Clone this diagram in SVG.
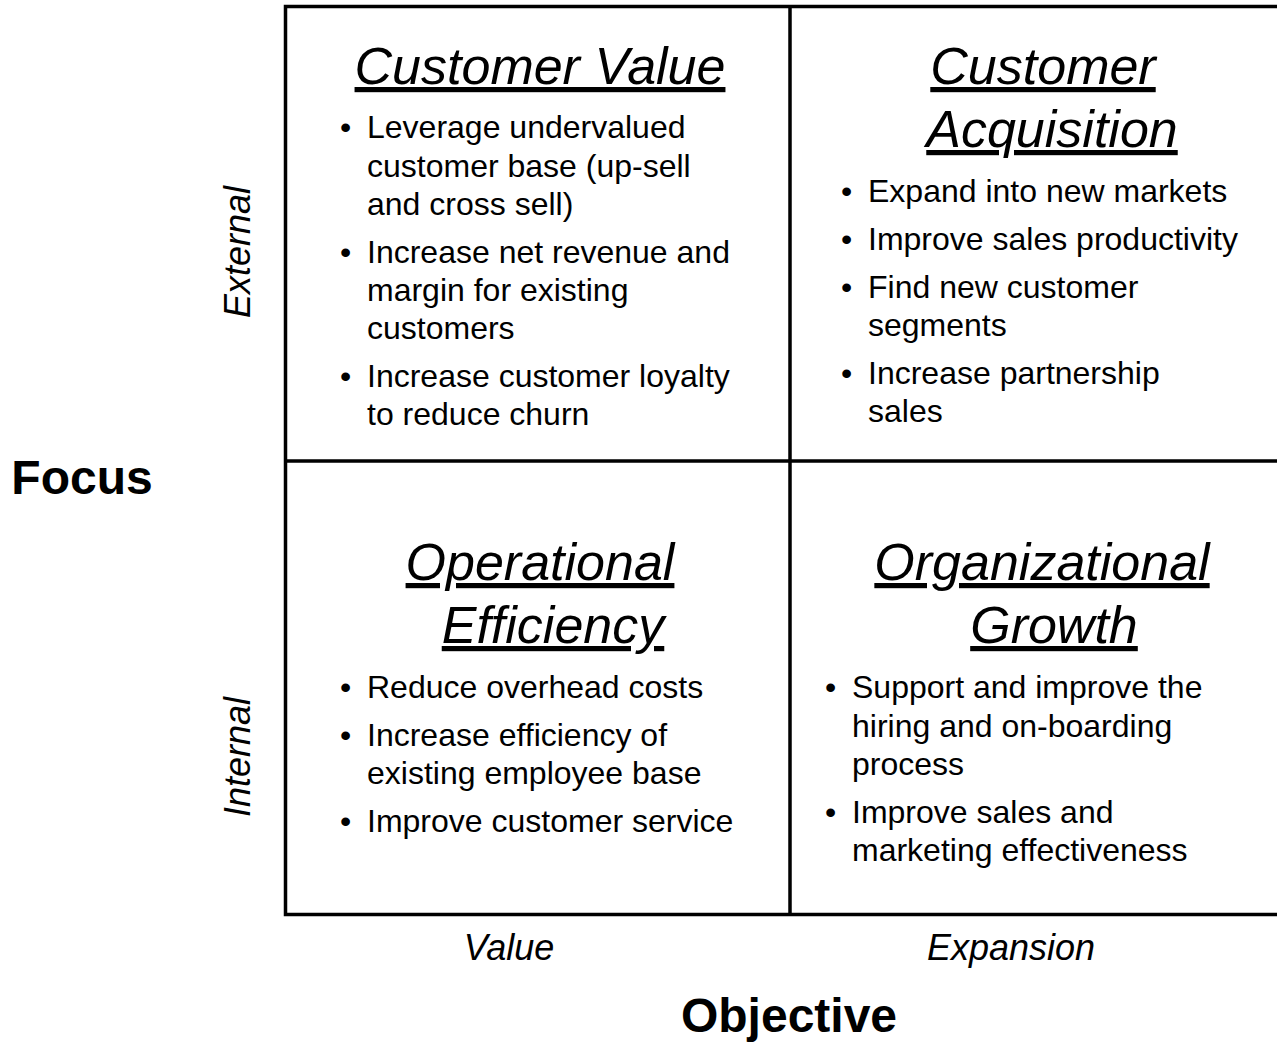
<svg xmlns="http://www.w3.org/2000/svg" width="1277" height="1043" viewBox="0 0 1277 1043">
<style>
text{font-family:"Liberation Sans",Arial,sans-serif;fill:#000}
.t{font-size:52px;font-style:italic;text-decoration:underline;text-anchor:middle}
.b{font-size:32px}
.ax{font-size:36px;font-style:italic;text-anchor:middle}
.big{font-size:48px;font-weight:bold;text-anchor:middle}
.ln{stroke:#000;stroke-width:3.5;fill:none}
</style>
<rect width="1277" height="1043" fill="#fff"/>
<g id="grid">
<path class="ln" d="M1277 6.5H285.5V914.5H1277M285.5 461H1277M790 6.5V914.5"/>
</g>
<g id="customer-value">
<text class="t" x="540" y="84">Customer Value</text>
<text class="b"><tspan x="340" y="137.5">•</tspan><tspan x="367" y="137.5">Leverage undervalued</tspan><tspan x="367" y="176.5">customer base (up-sell</tspan><tspan x="367" y="214.5">and cross sell)</tspan><tspan x="340" y="262.5">•</tspan><tspan x="367" y="262.5">Increase net revenue and</tspan><tspan x="367" y="300.5">margin for existing</tspan><tspan x="367" y="338.5">customers</tspan><tspan x="340" y="386.5">•</tspan><tspan x="367" y="386.5">Increase customer loyalty</tspan><tspan x="367" y="424.5">to reduce churn</tspan></text>
</g>
<g id="customer-acquisition">
<text class="t" x="1043" y="84">Customer</text>
<text class="t" x="1052" y="147">Acquisition</text>
<text class="b"><tspan x="841" y="201.5">•</tspan><tspan x="868" y="201.5">Expand into new markets</tspan><tspan x="841" y="249.5">•</tspan><tspan x="868" y="249.5">Improve sales productivity</tspan><tspan x="841" y="297.5">•</tspan><tspan x="868" y="297.5">Find new customer</tspan><tspan x="868" y="335.5">segments</tspan><tspan x="841" y="383.5">•</tspan><tspan x="868" y="383.5">Increase partnership</tspan><tspan x="868" y="421.5">sales</tspan></text>
</g>
<g id="operational-efficiency">
<text class="t" x="540" y="580">Operational</text>
<text class="t" x="553" y="643">Efficiency</text>
<text class="b"><tspan x="340" y="697.5">•</tspan><tspan x="367" y="697.5">Reduce overhead costs</tspan><tspan x="340" y="745.5">•</tspan><tspan x="367" y="745.5">Increase efficiency of</tspan><tspan x="367" y="783.5">existing employee base</tspan><tspan x="340" y="831.5">•</tspan><tspan x="367" y="831.5">Improve customer service</tspan></text>
</g>
<g id="organizational-growth">
<text class="t" x="1042" y="580">Organizational</text>
<text class="t" x="1054" y="643">Growth</text>
<text class="b"><tspan x="825" y="697.5">•</tspan><tspan x="852" y="697.5">Support and improve the</tspan><tspan x="852" y="736.5">hiring and on-boarding</tspan><tspan x="852" y="774.5">process</tspan><tspan x="825" y="822.5">•</tspan><tspan x="852" y="822.5">Improve sales and</tspan><tspan x="852" y="860.5">marketing effectiveness</tspan></text>
</g>
<g id="axes">
<text class="ax" transform="translate(250,252) rotate(-90)">External</text>
<text class="ax" transform="translate(250,757) rotate(-90)">Internal</text>
<text class="ax" x="509" y="960">Value</text>
<text class="ax" x="1011" y="960">Expansion</text>
<text class="big" x="82" y="494">Focus</text>
<text class="big" x="789" y="1032">Objective</text>
</g>
</svg>
